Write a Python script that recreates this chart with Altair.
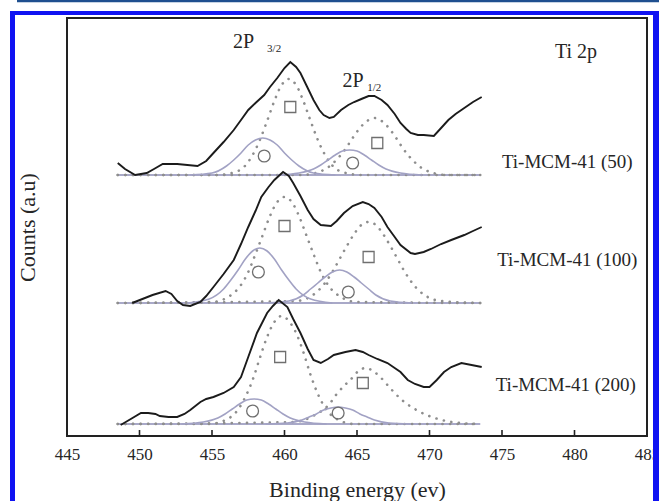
import altair as alt
import pandas as pd

# ---------------------------------------------------------------
# Ti 2p XPS spectra of Ti-MCM-41 (Si/Ti = 50, 100, 200)
# binding energy in eV, counts in arbitrary units (stacked spectra)
# ---------------------------------------------------------------
samples = ["Ti-MCM-41 (50)", "Ti-MCM-41 (100)", "Ti-MCM-41 (200)"]

# measured envelopes
energy_50 = [448.5, 449.0, 449.7, 450.5, 451.0, 451.6, 452.6, 454.0, 454.6, 455.1,
             455.8, 456.5, 457.0, 457.5, 458.0, 458.6, 459.0, 459.5, 460.0, 460.4,
             460.8, 461.1, 461.5, 462.0, 462.4, 462.7, 463.1, 463.4, 463.9, 464.4,
             464.8, 465.3, 465.8, 466.2, 466.7, 467.1, 467.6, 468.0, 468.4, 468.7,
             469.2, 469.6, 470.3, 470.8, 471.3, 471.8, 472.4, 473.0, 473.6]
counts_50 = [274, 268, 262, 264, 268, 273, 273, 271, 276, 284,
             295, 307, 317, 327, 334, 342, 350, 359, 369, 375,
             370, 364, 352, 337, 327, 322, 319, 320, 327, 332,
             335, 338, 341, 341, 337, 332, 323, 314, 308, 304,
             302, 302, 301, 309, 317, 323, 329, 335, 340]

energy_100 = [449.5, 450.2, 450.9, 451.8, 452.2, 452.6, 453.0, 453.5, 454.2, 454.6,
              455.1, 455.8, 456.5, 457.0, 457.5, 458.0, 458.4, 458.9, 459.3, 459.9,
              460.3, 460.6, 461.1, 461.6, 462.0, 462.5, 463.2, 463.6, 464.1, 464.7,
              465.4, 465.8, 466.2, 466.7, 467.1, 467.6, 468.0, 468.7, 469.0, 469.6,
              470.1, 470.8, 471.5, 472.4, 473.0, 473.6]
counts_100 = [134, 138, 142, 146, 143, 136, 132, 131, 135, 141,
              150, 163, 177, 193, 210, 226, 240, 250, 257, 265,
              261, 254, 241, 227, 218, 212, 211, 216, 224, 231,
              235, 233, 229, 220, 210, 200, 192, 184, 183, 185,
              188, 193, 197, 202, 206, 210]

energy_200 = [448.7, 449.4, 450.1, 450.6, 451.1, 451.4, 452.0, 452.6, 453.1, 453.5,
              454.2, 454.6, 455.1, 455.8, 456.5, 457.0, 457.5, 458.1, 458.8, 459.2,
              459.6, 460.2, 460.6, 461.1, 461.6, 462.0, 462.5, 463.0, 463.4, 464.2,
              464.9, 465.4, 465.8, 466.4, 467.1, 467.6, 468.0, 468.5, 469.0, 469.6,
              470.0, 470.5, 471.0, 471.5, 472.2, 472.9, 473.6]
counts_200 = [12, 18, 24, 24, 23, 21, 20, 20, 23, 27,
              35, 38, 40, 44, 50, 60, 80, 104, 124, 131,
              137, 130, 118, 104, 88, 77, 74, 78, 82, 85,
              87, 85, 82, 78, 74, 69, 65, 57, 53, 50,
              50, 57, 65, 70, 74, 72, 70]

# background level of each stacked spectrum and the fitted range
background = [262, 134, 13]
fit_range = [448.5, 473.5]

# fitted components: main 2p3/2 and 2p1/2 peaks (dotted, square symbol)
# and the lower-energy 2p3/2 / 2p1/2 components (solid, circle symbol)
main32_e_50 = [455.3, 456.8, 457.8, 458.3, 458.8, 459.3, 459.8, 460.3, 460.8, 461.3, 461.8, 462.3, 462.8, 463.8, 465.3]
main32_c_50 = [262, 266, 282, 297, 316, 336, 352, 358, 352, 336, 316, 297, 282, 266, 262]
low32_e_50 = [453.5, 455.0, 456.0, 456.5, 457.0, 457.5, 458.0, 458.5, 459.0, 459.5, 460.0, 460.5, 461.0, 462.0, 463.5]
low32_c_50 = [262, 264, 271, 277, 284, 292, 297, 299, 297, 292, 284, 277, 271, 264, 262]
main12_e_50 = [461.2, 462.7, 463.7, 464.2, 464.7, 465.2, 465.7, 466.2, 466.7, 467.2, 467.7, 468.2, 468.7, 469.7, 471.2]
main12_c_50 = [262, 267, 279, 288, 299, 309, 316, 319, 316, 309, 299, 288, 279, 267, 262]
low12_e_50 = [459.5, 461.0, 462.0, 462.5, 463.0, 463.5, 464.0, 464.5, 465.0, 465.5, 466.0, 466.5, 467.0, 468.0, 469.5]
low12_c_50 = [262, 264, 268, 272, 277, 282, 286, 287, 286, 282, 277, 272, 268, 264, 262]

main32_e_100 = [455.0, 456.5, 457.5, 458.0, 458.5, 459.0, 459.5, 460.0, 460.5, 461.0, 461.5, 462.0, 462.5, 463.5, 465.0]
main32_c_100 = [135, 144, 165, 183, 202, 221, 235, 240, 235, 221, 202, 183, 165, 144, 135]
low32_e_100 = [453.3, 454.8, 455.8, 456.3, 456.8, 457.3, 457.8, 458.3, 458.8, 459.3, 459.8, 460.3, 460.8, 461.8, 463.3]
low32_c_100 = [134, 138, 148, 157, 167, 178, 186, 189, 186, 178, 167, 157, 148, 138, 134]
main12_e_100 = [460.8, 462.3, 463.3, 463.8, 464.3, 464.8, 465.3, 465.8, 466.3, 466.8, 467.3, 467.8, 468.3, 469.3, 470.8]
main12_c_100 = [136, 146, 165, 178, 191, 203, 212, 215, 212, 203, 191, 178, 165, 146, 136]
low12_e_100 = [458.8, 460.3, 461.3, 461.8, 462.3, 462.8, 463.3, 463.8, 464.3, 464.8, 465.3, 465.8, 466.3, 467.3, 468.8]
low12_c_100 = [134, 136, 142, 148, 154, 160, 165, 167, 165, 160, 154, 148, 142, 136, 134]

main32_e_200 = [454.8, 456.3, 457.3, 457.8, 458.3, 458.8, 459.3, 459.8, 460.3, 460.8, 461.3, 461.8, 462.3, 463.3, 464.8]
main32_c_200 = [13, 20, 40, 57, 79, 100, 115, 121, 116, 104, 85, 62, 43, 21, 13]
low32_e_200 = [452.9, 454.4, 455.4, 455.9, 456.4, 456.9, 457.4, 457.9, 458.4, 458.9, 459.4, 459.9, 460.4, 461.4, 462.9]
low32_c_200 = [13, 15, 19, 23, 28, 33, 37, 38, 37, 33, 28, 23, 19, 15, 13]
main12_e_200 = [460.6, 462.1, 463.1, 463.6, 464.1, 464.6, 465.1, 465.6, 466.1, 466.6, 467.1, 467.6, 468.1, 469.1, 470.6, 472.1]
main12_c_200 = [15, 22, 33, 43, 51, 58, 66, 69, 66, 60, 52, 44, 37, 27, 18, 14]
low12_e_200 = [458.7, 460.2, 461.2, 461.7, 462.2, 462.7, 463.2, 463.7, 464.2, 464.7, 465.2, 465.7, 466.2, 467.2, 468.7]
low12_c_200 = [13, 14, 17, 20, 23, 27, 29, 30, 29, 27, 23, 20, 17, 14, 13]

# symbol positions marking each component
square_e = [460.4, 466.4, 460.0, 465.8, 459.7, 465.4]
square_c = [330, 294, 211, 180, 80, 54]
circle_e = [458.6, 464.7, 458.2, 464.4, 457.8, 463.7]
circle_c = [281, 274, 165, 145, 26, 24]

tick_values = [450, 455, 460, 465, 470, 475, 480]

# ---------------------------------------------------------------
# long tables
# ---------------------------------------------------------------
def curve_rows(sample, kind, energies, counts):
    return [{"E": e, "counts": c, "key": f"{sample}|{kind}", "i": i}
            for i, (e, c) in enumerate(zip(energies, counts))]

exp_rows, dotted_rows, solid_rows, base_rows = [], [], [], []
envelopes = [(energy_50, counts_50), (energy_100, counts_100), (energy_200, counts_200)]
components = [
    (main32_e_50, main32_c_50, low32_e_50, low32_c_50, main12_e_50, main12_c_50, low12_e_50, low12_c_50),
    (main32_e_100, main32_c_100, low32_e_100, low32_c_100, main12_e_100, main12_c_100, low12_e_100, low12_c_100),
    (main32_e_200, main32_c_200, low32_e_200, low32_c_200, main12_e_200, main12_c_200, low12_e_200, low12_c_200),
]
for s, name in enumerate(samples):
    b = background[s]
    exp_rows += curve_rows(name, "exp", *envelopes[s])
    m32e, m32c, l32e, l32c, m12e, m12c, l12e, l12c = components[s]
    # dotted main peaks run along the background across the fitted range
    dotted_rows += curve_rows(name, "main32", [fit_range[0]] + m32e + [fit_range[1]], [b] + m32c + [b])
    dotted_rows += curve_rows(name, "main12", [fit_range[0]] + m12e + [fit_range[1]], [b] + m12c + [b])
    solid_rows += curve_rows(name, "low32", l32e, l32c)
    solid_rows += curve_rows(name, "low12", l12e, l12c)
    base_rows += curve_rows(name, "bg", fit_range, [b, b])

exp_df = pd.DataFrame(exp_rows)
dotted_df = pd.DataFrame(dotted_rows)
solid_df = pd.DataFrame(solid_rows)
base_df = pd.DataFrame(base_rows)
square_df = pd.DataFrame({"E": square_e, "counts": square_c})
circle_df = pd.DataFrame({"E": circle_e, "counts": circle_c})
tick_df = pd.DataFrame({"E": tick_values})

SERIF = "Liberation Serif"
INK = "#262626"

x_enc = alt.X(
    "E:Q",
    scale=alt.Scale(domain=[445, 485], nice=False, zero=False),
    axis=alt.Axis(
        values=list(range(445, 490, 5)), title="Binding energy (ev)",
        grid=False, domain=False, ticks=False,
        labelFont=SERIF, labelFontSize=17, labelColor=INK,
        labelFlush=False, labelOverlap=False, labelBound=False,
        labelBaseline="middle", labelPadding=18,
        titleFont=SERIF, titleFontSize=22, titleFontWeight="normal",
        titleColor=INK, titleY=53, titleBaseline="middle",
    ),
)
y_enc = alt.Y(
    "counts:Q",
    scale=alt.Scale(domain=[1, 419], nice=False, zero=False),
    axis=alt.Axis(
        title="Counts (a.u)", labels=False, ticks=False, domain=False, grid=False,
        titleFont=SERIF, titleFontSize=22, titleFontWeight="normal",
        titleColor=INK, titleX=-40, titleBaseline="middle",
    ),
)

# inward tick marks on the energy axis
ticks = alt.Chart(tick_df).mark_rule(color="#222", strokeWidth=1.6).encode(
    x=x_enc, y=alt.value(418), y2=alt.value(412))

baseline = alt.Chart(base_df).mark_line(color="#8c8cb6", strokeWidth=1.6).encode(
    x=x_enc, y=y_enc, detail="key:N", order="i:Q")

dotted = alt.Chart(dotted_df).mark_line(
    color="#8e8e8e", strokeWidth=2.6, strokeDash=[0.1, 7.5], strokeCap="round",
    interpolate="monotone").encode(x=x_enc, y=y_enc, detail="key:N", order="i:Q")

solid = alt.Chart(solid_df).mark_line(
    color="#a2a2c4", strokeWidth=1.6, interpolate="monotone").encode(
    x=x_enc, y=y_enc, detail="key:N", order="i:Q")

envelope = alt.Chart(exp_df).mark_line(color="#1b1b1b", strokeWidth=1.9).encode(
    x=x_enc, y=y_enc, detail="key:N", order="i:Q")

squares = alt.Chart(square_df).mark_point(
    shape="square", size=120, filled=False, stroke="#6f6f6f", strokeWidth=1.3,
    opacity=1).encode(x=x_enc, y=y_enc)
circles = alt.Chart(circle_df).mark_point(
    shape="circle", size=140, filled=False, stroke="#6f6f6f", strokeWidth=1.3,
    opacity=1).encode(x=x_enc, y=y_enc)

# text annotations
sample_labels = pd.DataFrame({"E": [479.5, 479.5, 479.4], "counts": [275, 177, 52], "t": samples})
title_label = pd.DataFrame({"E": [480.1], "counts": [385], "t": ["Ti 2p"]})
level_labels = pd.DataFrame({"E": [456.45, 464.0], "counts": [395, 356], "t": ["2P", "2P"]})
sub_labels = pd.DataFrame({"E": [458.8, 465.7], "counts": [388, 349], "t": ["3/2", "1/2"]})

def text_layer(df, size, align):
    return alt.Chart(df).mark_text(
        font=SERIF, fontSize=size, color=INK, align=align, baseline="middle").encode(
        x=x_enc, y=y_enc, text="t:N")

texts = (text_layer(sample_labels, 19, "center") + text_layer(title_label, 20, "center")
         + text_layer(level_labels, 20, "left") + text_layer(sub_labels, 11, "left"))

# page border drawn around the figure
one = pd.DataFrame({"a": [0]})
BLUE = "#0f12f2"
border = (
    alt.Chart(one).mark_rule(color=BLUE, strokeWidth=5).encode(
        x=alt.value(-54.5), y=alt.value(-7), y2=alt.value(483))
    + alt.Chart(one).mark_rule(color=BLUE, strokeWidth=6).encode(
        x=alt.value(589), y=alt.value(-7), y2=alt.value(483))
    + alt.Chart(one).mark_rule(color=BLUE, strokeWidth=4).encode(
        y=alt.value(-5), x=alt.value(-57), x2=alt.value(592))
    + alt.Chart(one).mark_rule(color="#1f4f8f", strokeWidth=2.5).encode(
        y=alt.value(-17), x=alt.value(-50), x2=alt.value(592))
)

chart = alt.layer(
    ticks, baseline, dotted, solid, envelope, squares, circles, texts, border
).properties(
    width=580, height=418,
    autosize=alt.AutoSizeParams(type="none"),
    padding={"left": 67, "top": 18, "right": 12, "bottom": 65},
    background="white",
).configure_view(stroke="#222", strokeWidth=2)

chart.save("out.html", embed_options={"renderer": "svg", "actions": False})
